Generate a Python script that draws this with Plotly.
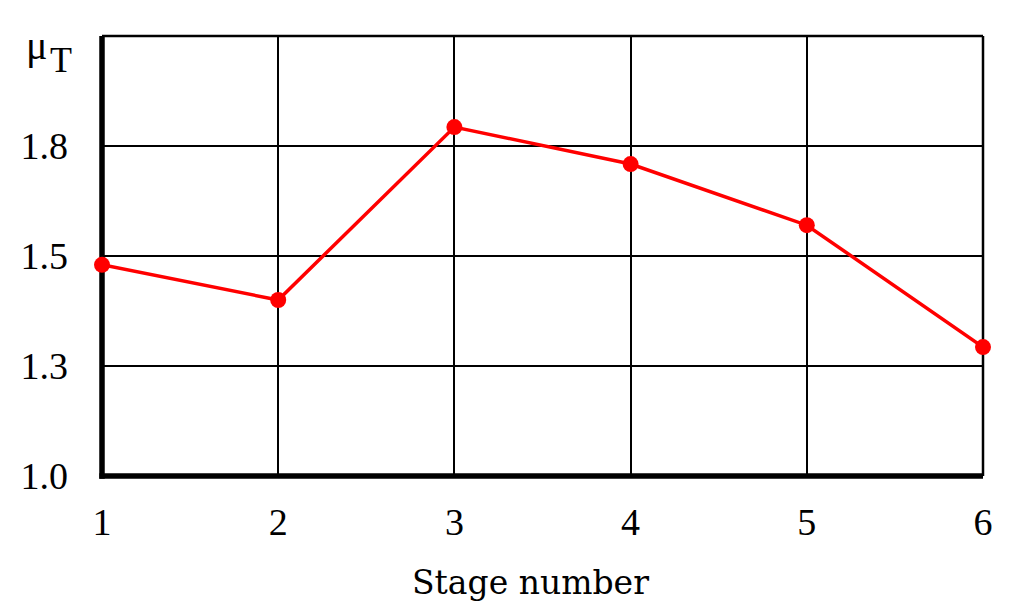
import plotly.graph_objects as go

stages = [1, 2, 3, 4, 5, 6]
mu_t = [1.48, 1.40, 1.793, 1.709, 1.570, 1.293]
y_tickvals = [1.0, 1.25, 1.5, 1.75]
y_ticktext = ["1.0", "1.3", "1.5", "1.8"]
x_tickvals = [1, 2, 3, 4, 5, 6]
x_ticktext = ["1", "2", "3", "4", "5", "6"]
x_title = "Stage number"

serif = "Liberation Serif"

fig = go.Figure()
fig.add_trace(go.Scatter(
    x=stages, y=mu_t, mode="lines+markers",
    line=dict(color="#ff0000", width=3.5),
    marker=dict(color="#ff0000", size=16),
    cliponaxis=False, showlegend=False,
))

fig.update_layout(
    width=1024, height=614,
    margin=dict(l=102, r=41, t=36, b=138, autoexpand=False),
    paper_bgcolor="white", plot_bgcolor="white",
    font=dict(family=serif, color="black", size=38),
    xaxis=dict(
        range=[1, 6], tickvals=x_tickvals, ticktext=x_ticktext,
        showgrid=True, gridcolor="black", gridwidth=2,
        showline=False, ticks="", ticklabelstandoff=20,
        zeroline=False, automargin=False,
        tickfont=dict(family=serif, size=38),
    ),
    yaxis=dict(
        range=[1, 2], tickvals=y_tickvals, ticktext=y_ticktext,
        showgrid=True, gridcolor="black", gridwidth=2,
        showline=False, ticks="", ticklabelstandoff=33,
        zeroline=False, automargin=False,
        tickfont=dict(family=serif, size=38),
    ),
    shapes=[
        dict(type="line", xref="paper", yref="paper", x0=0, x1=1, y0=1, y1=1,
             layer="between", line=dict(color="black", width=2.5)),
        dict(type="line", xref="paper", yref="paper", x0=1, x1=1, y0=0, y1=1,
             layer="between", line=dict(color="black", width=2.5)),
        dict(type="line", xref="paper", yref="paper", x0=0, x1=0, y0=-0.006, y1=1,
             layer="between", line=dict(color="black", width=5.5)),
        dict(type="line", xref="paper", yref="paper", x0=-0.003, x1=1, y0=0, y1=0,
             layer="between", line=dict(color="black", width=5.5)),
    ],
    annotations=[
        dict(text="μ", xref="paper", yref="paper", x=-0.074, y=0.978,
             xanchor="center", yanchor="middle", showarrow=False,
             font=dict(family=serif, size=40, color="black")),
        dict(text="T", xref="paper", yref="paper", x=-0.047, y=0.945,
             xanchor="center", yanchor="middle", showarrow=False,
             font=dict(family=serif, size=36, color="black")),
        dict(text=x_title, xref="paper", yref="paper", x=0.486, y=-0.243,
             xanchor="center", yanchor="middle", showarrow=False,
             font=dict(family="DejaVu Serif", size=33, color="black")),
    ],
)

fig.write_html(
    "out.html",
    config={"displayModeBar": False},
    post_script="document.body.style.margin='0';document.body.style.overflow='hidden';",
)
